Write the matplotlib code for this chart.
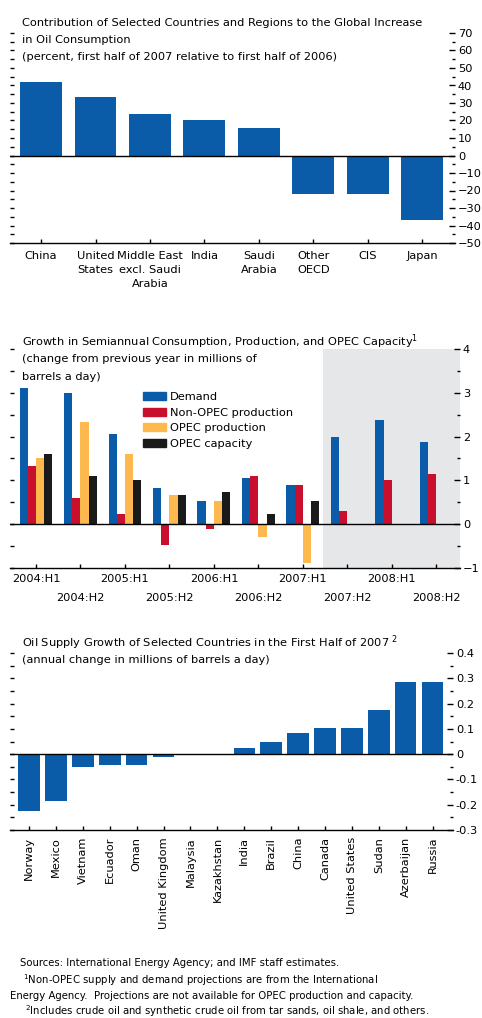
import matplotlib
matplotlib.use("Agg")  # no display
import matplotlib.pyplot as plt
import numpy as np
from matplotlib.patches import Patch
from matplotlib.ticker import MultipleLocator, NullFormatter

plt.rcParams['font.family'] = ['Liberation Sans Narrow', 'DejaVu Sans']
plt.rcParams['mathtext.fontset'] = 'custom'
plt.rcParams['mathtext.rm'] = 'Liberation Sans Narrow'

# ---- data -------------------------------------------------------------
contrib_labels = ["China", "United\nStates", "Middle East\nexcl. Saudi\nArabia", "India",
                  "Saudi\nArabia", "Other\nOECD", "CIS", "Japan"]
contrib_values = [42, 33.5, 23.5, 20, 15.5, -22, -22, -37]

periods = ["2004:H1", "2004:H2", "2005:H1", "2005:H2", "2006:H1",
           "2006:H2", "2007:H1", "2007:H2", "2008:H1", "2008:H2"]
demand = [3.1, 3.0, 2.06, 0.83, 0.52, 1.06, 0.89, 2.0, 2.39, 1.87]
non_opec = [1.34, 0.6, 0.24, -0.48, -0.11, 1.11, 0.89, 0.29, 1.0, 1.15]
opec_prod = [1.52, 2.33, 1.6, 0.66, 0.52, -0.3, -0.89, np.nan, np.nan, np.nan]
opec_cap = [1.6, 1.1, 1.0, 0.66, 0.74, 0.24, 0.52, np.nan, np.nan, np.nan]
series_names = ["Demand", "Non-OPEC production", "OPEC production", "OPEC capacity"]

supply_countries = ["Norway", "Mexico", "Vietnam", "Ecuador", "Oman", "United Kingdom",
                    "Malaysia", "Kazakhstan", "India", "Brazil", "China", "Canada",
                    "United States", "Sudan", "Azerbaijan", "Russia"]
supply_values = [-0.224, -0.184, -0.05, -0.043, -0.043, -0.01, 0, 0, 0.026, 0.05,
                 0.082, 0.105, 0.105, 0.175, 0.287, 0.287]

# ---- style ------------------------------------------------------------
BLUE = "#0A5CA8"
RED = "#C8102E"
ORANGE = "#FDB94E"
BLACK = "#1A1A1A"
SHADE = "#E6E7E8"
FS = 8.2  # main font size
FN = 7.3  # footnote font size

W, H = 482, 1018
fig = plt.figure(figsize=(W / 100, H / 100), dpi=100)


def rect(x0, y_top, x1, y_bot):  # pixel box -> figure fraction
    return [x0 / W, 1 - y_bot / H, (x1 - x0) / W, (y_bot - y_top) / H]


def ftext(x, y, s, **kw):  # text placed in pixel coords
    fig.text(x / W, 1 - y / H, s, va='center', ha='left', fontsize=kw.pop('fontsize', FS), **kw)


def style_axis(ax, major, minor, left_step):
    for side in ['top', 'left', 'right']:
        ax.spines[side].set_visible(False)
    ax.spines['bottom'].set_linewidth(1.0)
    ax.yaxis.tick_right()
    ax.yaxis.set_major_locator(MultipleLocator(major))
    ax.yaxis.set_minor_locator(MultipleLocator(minor))
    ax.tick_params(axis='y', which='major', direction='in', length=4, width=1, pad=2, labelsize=FS)
    ax.tick_params(axis='y', which='minor', direction='in', length=2.2, width=1)
    ax.tick_params(axis='x', direction='in', length=3, width=1, labelsize=FS)
    ax.axhline(0, color='black', lw=1.0, zorder=3)
    # unlabeled ticks on the left side
    sec = ax.secondary_yaxis('left')
    sec.yaxis.set_major_locator(MultipleLocator(left_step))
    sec.yaxis.set_major_formatter(NullFormatter())
    sec.tick_params(direction='in', length=3, width=1)
    sec.spines['left'].set_visible(False)


# ---- panel 1 ----------------------------------------------------------
ax1 = fig.add_axes(rect(10, 33, 455, 243))
x1 = np.arange(len(contrib_values))
ax1.bar(x1, contrib_values, width=0.77, color=BLUE, zorder=2)
ax1.set_xlim(-0.57, 7.6)
ax1.set_ylim(-50, 70)
style_axis(ax1, 10, 5, 5)
ax1.set_xticks(x1)
ax1.set_xticklabels(contrib_labels, linespacing=1.45)
ax1.tick_params(axis='x', pad=6)

for i, line in enumerate(["Contribution of Selected Countries and Regions to the Global Increase",
                          "in Oil Consumption",
                          "(percent, first half of 2007 relative to first half of 2006)"]):
    ftext(22, 23 + 17 * i, line)

# ---- panel 2 ----------------------------------------------------------
ax2 = fig.add_axes(rect(10, 349, 460, 568))
x2 = np.arange(len(periods))
bw = 0.185
ax2.axvspan(6.45, 9.53, color=SHADE, zorder=0, lw=0)
for k, (vals, col) in enumerate(zip([demand, non_opec, opec_prod, opec_cap],
                                    [BLUE, RED, ORANGE, BLACK])):
    vals = np.array(vals, dtype=float)
    ok = ~np.isnan(vals)
    ax2.bar(x2[ok] + (k - 1.5) * bw, vals[ok], width=bw, color=col, zorder=2)
ax2.set_xlim(-0.584, 9.53)
ax2.set_ylim(-1, 4)
style_axis(ax2, 1, 0.5, 0.5)
ax2.set_xticks(x2)
ax2.set_xticklabels([])
# labels alternate between two rows
for i, p in enumerate(periods):
    off = 7.9 if i % 2 == 0 else 21.6
    ax2.annotate(p, xy=(x2[i], 0), xycoords=('data', 'axes fraction'), xytext=(0, -off),
                 textcoords='offset points', ha='center', va='center', fontsize=FS)

handles = [Patch(color=c) for c in [BLUE, RED, ORANGE, BLACK]]
ax2.legend(handles, series_names, loc='upper left', bbox_to_anchor=(143 / W, 1 - 392 / H),
           bbox_transform=fig.transFigure, frameon=False, fontsize=FS, handlelength=2.0,
           handleheight=0.7, handletextpad=0.35, labelspacing=0.5, borderpad=0, borderaxespad=0)

for i, line in enumerate(["Growth in Semiannual Consumption, Production, and OPEC Capacity$^{1}$",
                          "(change from previous year in millions of",
                          "barrels a day)"]):
    ftext(22, 342 + 17.5 * i, line)

# ---- panel 3 ----------------------------------------------------------
ax3 = fig.add_axes(rect(10, 653, 453, 830))
x3 = np.arange(len(supply_values))
ax3.bar(x3, supply_values, width=0.8, color=BLUE, zorder=2)
ax3.set_xlim(-0.71, 15.76)
ax3.set_ylim(-0.3, 0.4)
style_axis(ax3, 0.1, 0.05, 0.05)
ax3.yaxis.set_major_formatter(lambda v, p: "0" if abs(v) < 1e-9 else f"{v:.1f}")
ax3.set_xticks(x3)
ax3.set_xticklabels(supply_countries, rotation=90, va='top')
ax3.tick_params(axis='x', pad=5)

ftext(22, 643, "Oil Supply Growth of Selected Countries in the First Half of 2007$^{\\ 2}$")
ftext(22, 660, "(annual change in millions of barrels a day)")

# ---- footnotes --------------------------------------------------------
ftext(20, 963, "Sources: International Energy Agency; and IMF staff estimates.", fontsize=FN)
ftext(23, 980, "$^{1}$Non-OPEC supply and demand projections are from the International", fontsize=FN)
ftext(10, 996, "Energy Agency.  Projections are not available for OPEC production and capacity.", fontsize=FN)
ftext(25, 1011, "$^{2}$Includes crude oil and synthetic crude oil from tar sands, oil shale, and others.",
      fontsize=FN)

fig.savefig("out.png", dpi=100)
